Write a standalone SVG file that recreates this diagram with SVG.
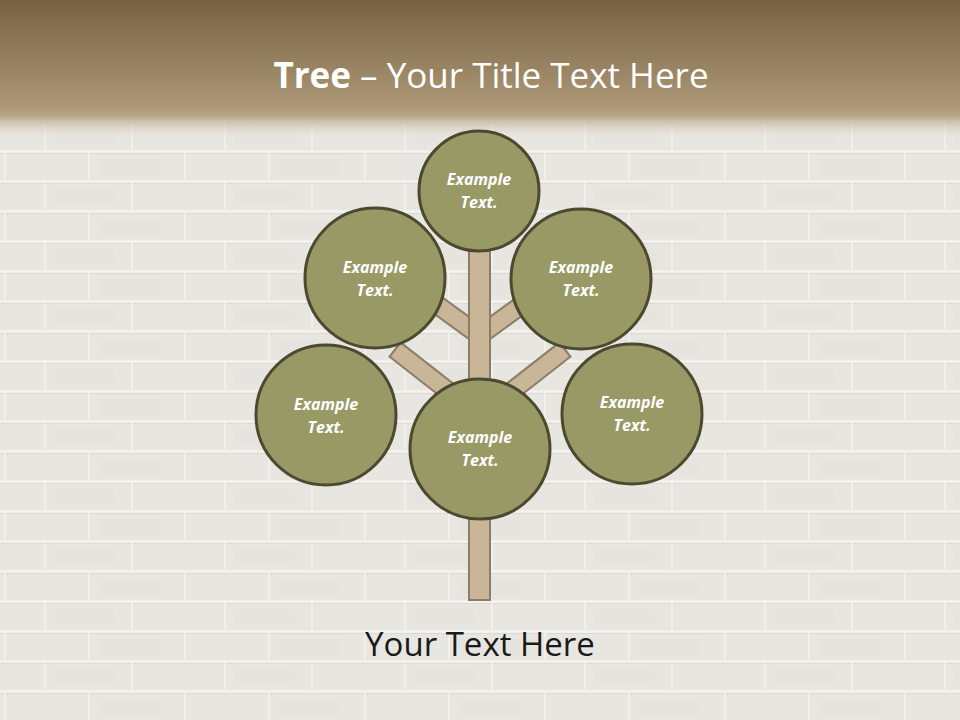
<svg xmlns="http://www.w3.org/2000/svg" width="960" height="720" viewBox="0 0 960 720">
<defs>
<linearGradient id="hdr" x1="0" y1="0" x2="0" y2="1">
<stop offset="0" stop-color="#766141"/>
<stop offset="0.75" stop-color="#ab9675"/>
<stop offset="0.83" stop-color="#b8a688"/>
<stop offset="1" stop-color="#ebe9e4" stop-opacity="0"/>
</linearGradient>
<pattern id="brick" width="180" height="60" patternUnits="userSpaceOnUse">
<rect width="180" height="60" fill="#e8e6e1"/>
<rect x="0" y="0" width="180" height="3" fill="#f2f1ed"/>
<rect x="0" y="3" width="180" height="1" fill="#dcd9d3"/>
<rect x="0" y="30" width="180" height="3" fill="#f2f1ed"/>
<rect x="0" y="33" width="180" height="1" fill="#dcd9d3"/>
<rect x="44" y="3" width="2" height="27" fill="#f0efeb"/>
<rect x="131" y="3" width="2" height="27" fill="#f0efeb"/>
<rect x="88" y="33" width="2" height="27" fill="#f0efeb"/>
<rect x="4" y="33" width="2" height="27" fill="#f0efeb"/>
<rect x="55" y="9" width="60" height="16" fill="#e4e2dc" opacity="0.5"/>
<rect x="100" y="39" width="60" height="16" fill="#e4e2dc" opacity="0.5"/>
</pattern>
<style>
.node{fill:#999966;stroke:#4b4a30;stroke-width:3}
.br{fill:#c9b598;stroke:#8d7c69;stroke-width:2}
.lbl{font-family:"Open Sans","Liberation Sans",sans-serif;font-style:italic;font-weight:bold;font-size:16px;fill:#ffffff;text-anchor:middle}
</style>
</defs>
<rect width="960" height="720" fill="url(#brick)"/>
<rect width="960" height="140" fill="url(#hdr)"/>
<text x="491" y="88" text-anchor="middle" font-family="'Open Sans','Liberation Sans',sans-serif" font-size="35" fill="#ffffff"><tspan font-weight="bold">Tree</tspan> – Your Title Text Here</text>
<g id="connectors">
<rect class="br" x="-60" y="-9" width="60" height="18" transform="translate(476 333) rotate(36)"/>
<rect class="br" x="0" y="-9" width="60" height="18" transform="translate(483 333) rotate(-36)"/>
<rect class="br" x="-90" y="-9" width="90" height="18" transform="translate(466 405) rotate(38)"/>
<rect class="br" x="0" y="-9" width="90" height="18" transform="translate(494 405) rotate(-38)"/>
<rect class="br" x="469" y="240" width="21" height="360"/>
</g>
<g id="n-top"><circle class="node" cx="479" cy="191" r="60"/><text class="lbl" x="479" y="185">Example</text><text class="lbl" x="479" y="208">Text.</text></g>
<g id="n-ul"><circle class="node" cx="375" cy="278" r="70"/><text class="lbl" x="375" y="273">Example</text><text class="lbl" x="375" y="296">Text.</text></g>
<g id="n-ur"><circle class="node" cx="581" cy="279" r="70"/><text class="lbl" x="581" y="273">Example</text><text class="lbl" x="581" y="296">Text.</text></g>
<g id="n-l"><circle class="node" cx="326" cy="415" r="70"/><text class="lbl" x="326" y="410">Example</text><text class="lbl" x="326" y="433">Text.</text></g>
<g id="n-r"><circle class="node" cx="632" cy="414" r="70"/><text class="lbl" x="632" y="408">Example</text><text class="lbl" x="632" y="431">Text.</text></g>
<g id="n-c"><circle class="node" cx="480" cy="449" r="70"/><text class="lbl" x="480" y="443">Example</text><text class="lbl" x="480" y="466">Text.</text></g>
<text x="480" y="656" text-anchor="middle" font-family="'Open Sans','Liberation Sans',sans-serif" font-size="33" fill="#1a1a1a">Your Text Here</text>
</svg>
